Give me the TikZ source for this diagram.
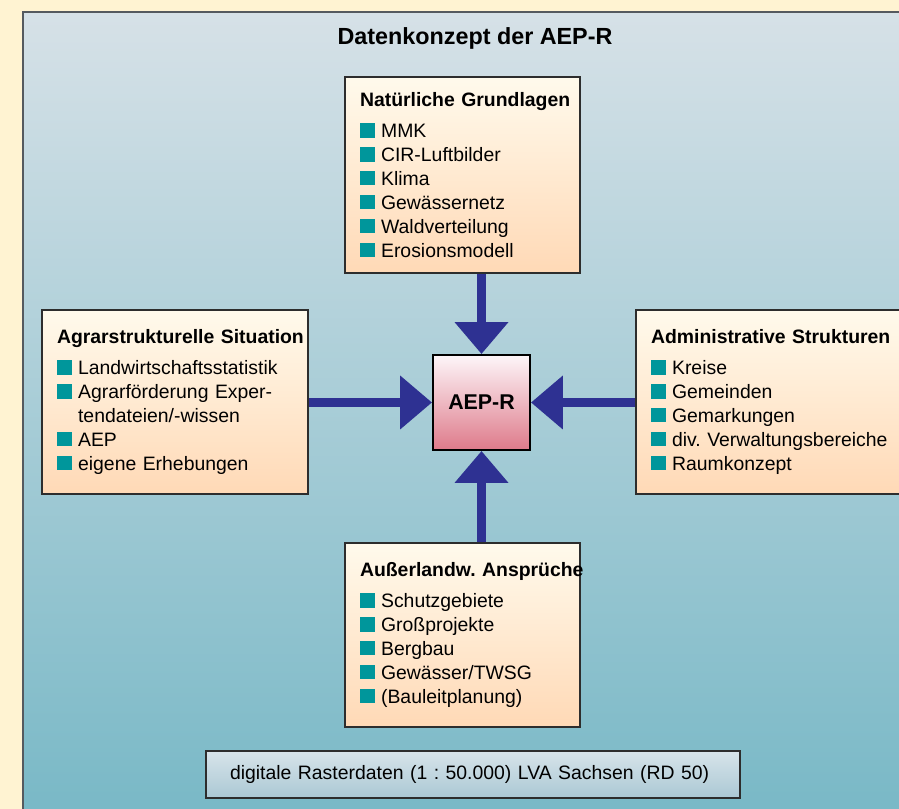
\documentclass[tikz,border=0pt]{standalone}
\usepackage{fontspec}
\setmainfont{Liberation Sans}
\usetikzlibrary{arrows.meta}
\frenchspacing

\definecolor{bgcream}{RGB}{255,243,210}
\definecolor{paneltop}{RGB}{214,225,231}
\definecolor{panelbot}{RGB}{120,184,198}
\definecolor{panelline}{RGB}{85,90,95}
\definecolor{boxtop}{RGB}{255,250,236}
\definecolor{boxbot}{RGB}{255,217,182}
\definecolor{boxline}{RGB}{45,45,45}
\definecolor{coretop}{RGB}{253,246,249}
\definecolor{corebot}{RGB}{222,122,138}
\definecolor{striptop}{RGB}{216,228,234}
\definecolor{stripbot}{RGB}{170,200,212}
\definecolor{bulletteal}{RGB}{0,150,155}
\definecolor{arrowblue}{RGB}{46,49,146}

\newcommand{\bul}{{\color{bulletteal}\rule{10.4pt}{10.2pt}}\hspace{4.6pt}}
\newcommand{\itm}[1]{\mbox{\bul#1}}
\newcommand{\cont}[1]{\mbox{\hspace*{15pt}#1}}
\newcommand{\hdg}[1]{\mbox{\bfseries #1}}

\tikzset{
  srcbox/.style={draw=boxline, line width=1.1pt, top color=boxtop, bottom color=boxbot,
    align=left, inner xsep=0.375cm, font=\fontsize{13.8}{17}\selectfont},
  corebox/.style={draw=black, line width=1.4pt, top color=coretop, bottom color=corebot,
    minimum width=2.425cm, minimum height=2.375cm, font=\fontsize{15.2}{18}\selectfont\bfseries},
  basebox/.style={draw=boxline, line width=1.1pt, top color=striptop, bottom color=stripbot,
    minimum height=1.175cm, text width=12.15cm, inner xsep=0.6cm, align=left,
    font=\fontsize{13.8}{17}\selectfont},
  titletext/.style={font=\fontsize{16.6}{20}\selectfont\bfseries},
  feed/.style={draw=arrowblue, line width=5.7pt, -{Triangle[width=36.9pt,length=22.7pt]}}
}

\begin{document}
\begin{tikzpicture}
\useasboundingbox (0,0) rectangle (22.475,20.225);
\clip (0,0) rectangle (22.475,20.225);
\fill[bgcream] (0,0) rectangle (22.475,20.225);
\draw[draw=panelline, line width=1.4pt, top color=paneltop, bottom color=panelbot] (0.575,-0.3) rectangle (23.0,19.925);

\node[titletext] (title) at (11.875,19.275) {Datenkonzept der AEP-R};

\node[srcbox, text width=5.125cm, minimum height=4.9cm] (nat) at (11.5625,15.85)
  {\hdg{Natürliche Grundlagen}\\[5pt]
   \itm{MMK}\\ \itm{CIR-Luftbilder}\\ \itm{Klima}\\ \itm{Gewässernetz}\\
   \itm{Waldverteilung}\\ \itm{Erosionsmodell}};

\node[srcbox, text width=5.9cm, minimum height=4.6cm] (agr) at (4.375,10.175)
  {\hdg{Agrarstrukturelle Situation}\\[5pt]
   \itm{Landwirtschaftsstatistik}\\ \itm{Agrarförderung Exper-}\\
   \cont{tendateien/-wissen}\\ \itm{AEP}\\ \itm{eigene Erhebungen}\\[4pt]};

\node[srcbox, text width=6.1cm, minimum height=4.6cm] (adm) at (19.325,10.175)
  {\hdg{Administrative Strukturen}\\[5pt]
   \itm{Kreise}\\ \itm{Gemeinden}\\ \itm{Gemarkungen}\\
   \itm{div. Verwaltungsbereiche}\\ \itm{Raumkonzept}};

\node[srcbox, text width=5.125cm, minimum height=4.6cm] (aus) at (11.5625,4.35)
  {\hdg{Außerlandw. Ansprüche}\\[5pt]
   \itm{Schutzgebiete}\\ \itm{Großprojekte}\\ \itm{Bergbau}\\
   \itm{Gewässer/TWSG}\\ \itm{(Bauleitplanung)}};

\node[corebox] (aep) at (12.0375,10.1625) {AEP-R};

\node[basebox] (rd) at (11.825,0.8625) {digitale Rasterdaten (1 : 50.000) LVA Sachsen (RD 50)};

\draw[feed] (nat.south -| aep.north) -- (aep.north);
\draw[feed] (agr.east |- aep.west) -- (aep.west);
\draw[feed] (adm.west |- aep.east) -- (aep.east);
\draw[feed] (aus.north -| aep.south) -- (aep.south);
\end{tikzpicture}
\end{document}
